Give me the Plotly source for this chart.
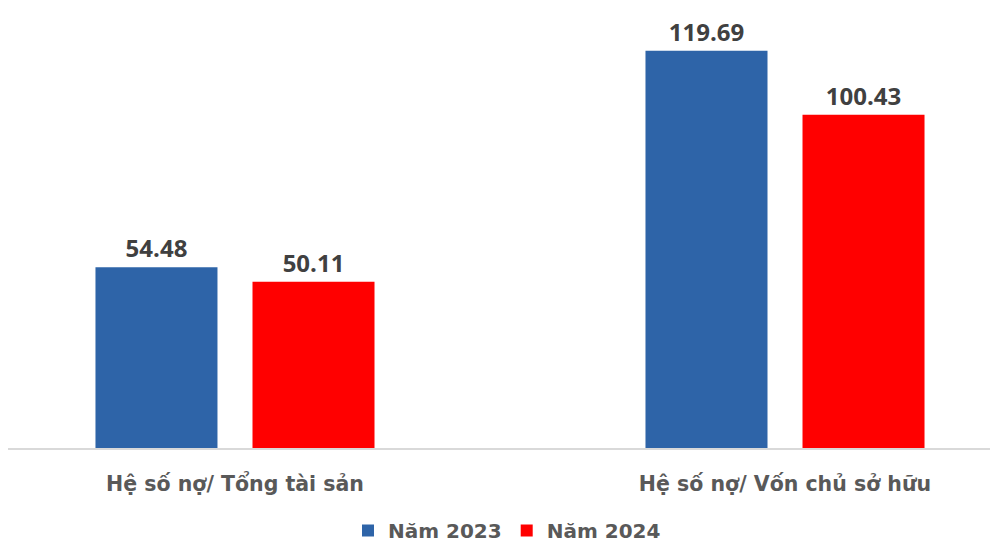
import plotly.graph_objects as go

categories = ["Hệ số nợ/ Tổng tài sản", "Hệ số nợ/ Vốn chủ sở hữu"]
series_names = ["Năm 2023", "Năm 2024"]
values_2023 = [54.48, 119.69]
values_2024 = [50.11, 100.43]
colors = ["#2E64A8", "#FF0000"]

LABEL_FONT = "Open Sans"
AXIS_FONT = "DejaVu Sans"

fig = go.Figure()
for name, vals, col in zip(series_names, [values_2023, values_2024], colors):
    fig.add_trace(go.Bar(
        x=categories, y=vals, name=name,
        marker=dict(color=col, line=dict(width=0)),
        text=[f"{v:.2f}" for v in vals],
        textposition="outside",
        textfont=dict(family=LABEL_FONT, size=24, color="#404040", weight="bold"),
        cliponaxis=False,
    ))

fig.update_layout(
    width=998, height=542,
    margin=dict(l=0, r=0, t=0, b=100),
    paper_bgcolor="white", plot_bgcolor="white",
    barmode="group", bargap=0.429, bargroupgap=0.223,
    font=dict(family=AXIS_FONT, color="#595959"),
    xaxis=dict(
        range=[-0.4127, 1.4018],
        showline=True, linecolor="#D9D9D9", linewidth=2,
        ticks="", showgrid=False, ticklabelstandoff=16,
        tickfont=dict(family=AXIS_FONT, size=20.5, color="#595959", weight="bold"),
    ),
    yaxis=dict(range=[0, 132.6], visible=False, showgrid=False),
    legend=dict(
        orientation="h", x=0.500, xanchor="center", y=-0.188, yanchor="middle",
        font=dict(family=AXIS_FONT, size=20, color="#595959", weight="bold"),
        itemwidth=30, traceorder="normal",
    ),
    showlegend=True,
)

fig.write_html("out.html")
